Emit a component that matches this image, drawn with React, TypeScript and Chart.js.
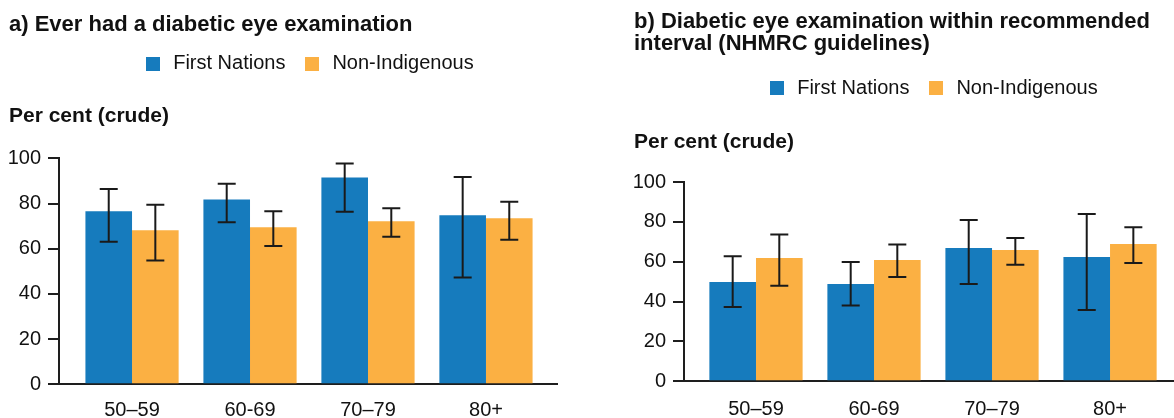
import React, { useEffect, useRef } from 'react';
import { Chart, registerables } from 'chart.js';

Chart.register(...registerables);

// ---------- data ----------
const categories = ['50–59', '60-69', '70–79', '80+'];
const seriesNames = ['First Nations', 'Non-Indigenous'];
const seriesColors = ['#167BBD', '#FBB043'];
const yTickValues = [0, 20, 40, 60, 80, 100];

// a) Ever had a diabetic eye examination
const everFirstNations = [76.6, 81.8, 91.5, 74.8];
const everFirstNationsLow = [63.1, 71.7, 76.3, 47.3];
const everFirstNationsHigh = [86.4, 88.7, 97.7, 91.7];
const everNonIndigenous = [68.2, 69.5, 72.2, 73.5];
const everNonIndigenousLow = [54.8, 61.2, 65.3, 64.0];
const everNonIndigenousHigh = [79.4, 76.6, 77.9, 80.8];

// b) Diabetic eye examination within recommended interval
const intervalFirstNations = [49.8, 48.8, 66.9, 62.4];
const intervalFirstNationsLow = [37.3, 38.0, 48.8, 35.8];
const intervalFirstNationsHigh = [62.7, 59.9, 80.9, 83.9];
const intervalNonIndigenous = [61.9, 60.9, 65.9, 68.9];
const intervalNonIndigenousLow = [48.0, 52.3, 58.5, 59.4];
const intervalNonIndigenousHigh = [73.6, 68.7, 71.9, 77.3];

const titleA = 'a) Ever had a diabetic eye examination';
const titleB = ['b) Diabetic eye examination within recommended', 'interval (NHMRC guidelines)'];
const yAxisLabel = 'Per cent (crude)';

// ---------- styling ----------
const FONT = "'Liberation Sans', Arial, Helvetica, sans-serif";
const TEXT = '#111111';
const AXIS = '#1e1e1e';

function makeSwatch(color: string) {
  const c = document.createElement('canvas');
  c.width = 14;
  c.height = 14;
  const g = c.getContext('2d')!;
  g.fillStyle = color;
  g.fillRect(0, 0, 14, 14);
  return c;
}

function errorBarPlugin(lows: number[][], highs: number[][]) {
  return {
    id: 'errorBars',
    afterDatasetsDraw(chart: any) {
      const { ctx } = chart;
      const yScale = chart.scales.y;
      chart.data.datasets.forEach((_ds: any, di: number) => {
        const meta = chart.getDatasetMeta(di);
        meta.data.forEach((bar: any, j: number) => {
          const x = bar.x;
          const y1 = yScale.getPixelForValue(lows[di][j]);
          const y2 = yScale.getPixelForValue(highs[di][j]);
          ctx.save();
          ctx.strokeStyle = '#1a1a1a';
          ctx.lineWidth = 2;
          ctx.beginPath();
          ctx.moveTo(x, y1);
          ctx.lineTo(x, y2);
          ctx.moveTo(x - 9, y1);
          ctx.lineTo(x + 9, y1);
          ctx.moveTo(x - 9, y2);
          ctx.lineTo(x + 9, y2);
          ctx.stroke();
          ctx.restore();
        });
      });
    },
  };
}

function legendCenterPlugin(centerX: number) {
  return {
    id: 'legendCenter',
    afterLayout(chart: any) {
      const l = chart.legend;
      if (!l || !l.lineWidths) return;
      const pad = l.options.labels.padding;
      const W = l.lineWidths[0];
      const cur = (l.left + pad + l.right - W) / 2;
      const want = centerX - (3.5 + W - pad) / 2;
      const d = want - cur;
      l.left += d;
      l.right += d;
    },
  };
}

interface PanelCfg {
  left: number;
  width: number;
  height: number;
  title: string | string[];
  titleLineHeight: number;
  titlePadTop: number;
  titlePadBottom: number;
  subPadTop: number;
  subPadBottom: number;
  padLeft: number;
  padRight: number;
  yAxisWidth: number;
  xAxisHeight: number;
  xMin: number;
  xMax: number;
  xLabelPad: number;
  legendCenter: number;
  values: number[][];
  lows: number[][];
  highs: number[][];
}

function buildConfig(cfg: PanelCfg): any {
  const swatches = seriesColors.map(makeSwatch);
  return {
    type: 'bar',
    data: {
      datasets: seriesNames.map((name, si) => ({
        label: name,
        data: cfg.values[si].map((v, i) => ({ x: i, y: v })),
        backgroundColor: seriesColors[si],
        borderWidth: 0,
        categoryPercentage: 0.79,
        barPercentage: 1,
      })),
    },
    options: {
      responsive: false,
      animation: false,
      devicePixelRatio: 1,
      layout: { padding: { left: cfg.padLeft, right: cfg.padRight, top: 0, bottom: 0 } },
      font: { family: FONT },
      color: TEXT,
      plugins: {
        tooltip: { enabled: false },
        title: {
          display: true,
          text: cfg.title,
          align: 'start',
          color: TEXT,
          font: { family: FONT, size: 22, weight: 'bold', lineHeight: cfg.titleLineHeight },
          padding: { top: cfg.titlePadTop, bottom: cfg.titlePadBottom },
        },
        legend: {
          display: true,
          position: 'top',
          align: 'center',
          labels: {
            usePointStyle: true,
            pointStyleWidth: 21,
            boxHeight: 14,
            padding: 16,
            color: TEXT,
            font: { family: FONT, size: 20 },
            generateLabels: (chart: any) =>
              chart.data.datasets.map((ds: any, i: number) => ({
                text: ds.label,
                fillStyle: seriesColors[i],
                strokeStyle: seriesColors[i],
                lineWidth: 0,
                pointStyle: swatches[i],
                hidden: false,
                datasetIndex: i,
                fontColor: TEXT,
              })),
          },
        },
        subtitle: {
          display: true,
          text: yAxisLabel,
          align: 'start',
          position: 'top',
          weight: 500,
          color: TEXT,
          font: { family: FONT, size: 21, weight: 'bold', lineHeight: 1 },
          padding: { top: cfg.subPadTop, bottom: cfg.subPadBottom },
        },
      },
      scales: {
        x: {
          type: 'linear',
          offset: false,
          bounds: 'data',
          min: cfg.xMin,
          max: cfg.xMax,
          afterBuildTicks: (scale: any) => {
            scale.ticks = categories.map((_c, i) => ({ value: i }));
          },
          afterFit: (scale: any) => {
            scale.height = cfg.xAxisHeight;
          },
          ticks: {
            autoSkip: false,
            maxRotation: 0,
            minRotation: 0,
            padding: cfg.xLabelPad,
            color: TEXT,
            font: { family: FONT, size: 20 },
            callback: (v: number) => categories[Math.round(v)] ?? '',
          },
          grid: { display: false, drawTicks: false, offset: false },
          border: { display: true, color: AXIS, width: 2 },
        },
        y: {
          type: 'linear',
          min: 0,
          max: 100,
          afterBuildTicks: (scale: any) => {
            scale.ticks = yTickValues.map((v) => ({ value: v }));
          },
          afterFit: (scale: any) => {
            scale.width = cfg.yAxisWidth;
          },
          ticks: {
            padding: 7,
            color: TEXT,
            font: { family: FONT, size: 20 },
          },
          grid: {
            display: true,
            drawOnChartArea: false,
            drawTicks: true,
            tickLength: 11,
            color: AXIS,
            lineWidth: 2,
          },
          border: { display: true, color: AXIS, width: 2 },
        },
      },
    },
    plugins: [errorBarPlugin(cfg.lows, cfg.highs), legendCenterPlugin(cfg.legendCenter)],
  };
}

const panelA: PanelCfg = {
  left: 0,
  width: 560,
  height: 430,
  title: titleA,
  titleLineHeight: 1,
  titlePadTop: 14.3,
  titlePadBottom: 1.4,
  subPadTop: 22.5,
  subPadBottom: 31.1,
  padLeft: 9,
  padRight: 3,
  yAxisWidth: 50,
  xAxisHeight: 430 - 384.3,
  xMin: -0.619,
  xMax: 3.602,
  xLabelPad: 14,
  legendCenter: 309.65,
  values: [everFirstNations, everNonIndigenous],
  lows: [everFirstNationsLow, everNonIndigenousLow],
  highs: [everFirstNationsHigh, everNonIndigenousHigh],
};

const panelB: PanelCfg = {
  left: 610,
  width: 564,
  height: 430,
  title: titleB,
  titleLineHeight: 1,
  titlePadTop: 11.2,
  titlePadBottom: 7.1,
  subPadTop: 23.4,
  subPadBottom: 29.3,
  padLeft: 24,
  padRight: 0,
  yAxisWidth: 50,
  xAxisHeight: 430 - 381.3,
  xMin: -0.61,
  xMax: 3.542,
  xLabelPad: 16,
  legendCenter: 323.65,
  values: [intervalFirstNations, intervalNonIndigenous],
  lows: [intervalFirstNationsLow, intervalNonIndigenousLow],
  highs: [intervalFirstNationsHigh, intervalNonIndigenousHigh],
};

function Panel({ cfg }: { cfg: PanelCfg }) {
  const ref = useRef<HTMLCanvasElement | null>(null);
  useEffect(() => {
    if (!ref.current) return;
    const chart = new Chart(ref.current, buildConfig(cfg));
    return () => chart.destroy();
  }, [cfg]);
  return (
    <div style={{ position: 'absolute', left: cfg.left, top: 0, width: cfg.width, height: cfg.height }}>
      <canvas
        ref={ref}
        width={cfg.width}
        height={cfg.height}
        style={{ display: 'block', width: cfg.width, height: cfg.height }}
      />
    </div>
  );
}

export default function App() {
  return (
    <div
      style={{
        position: 'absolute',
        left: 0,
        top: 0,
        width: 1174,
        height: 418,
        overflow: 'hidden',
        background: '#ffffff',
      }}
    >
      <Panel cfg={panelA} />
      <Panel cfg={panelB} />
    </div>
  );
}
